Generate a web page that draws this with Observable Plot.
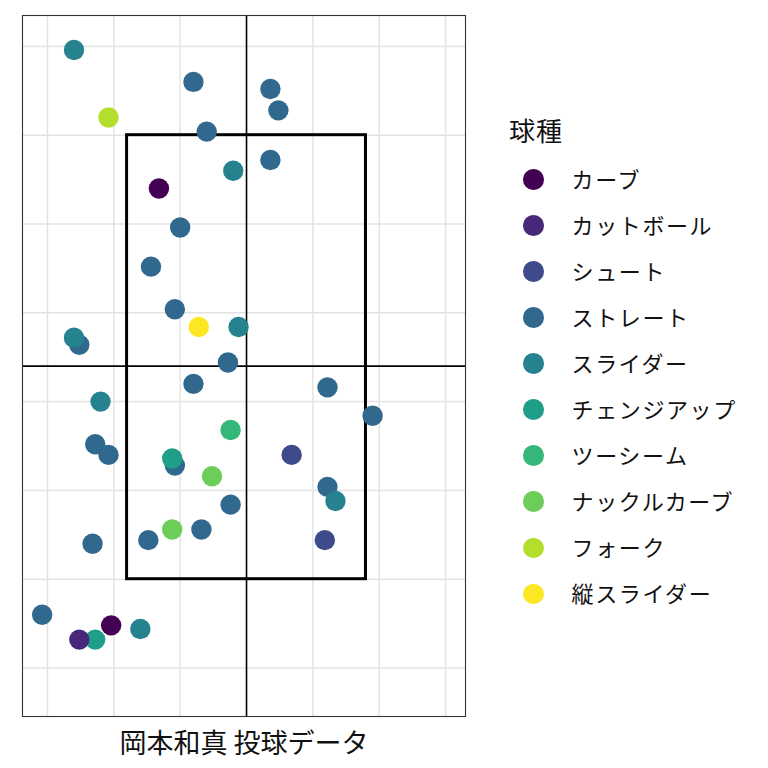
<!DOCTYPE html>
<html><head><meta charset="utf-8">
<script src="https://cdn.jsdelivr.net/npm/d3@7"></script>
<script src="https://cdn.jsdelivr.net/npm/@observablehq/plot@0.6"></script>
<style>
body{margin:0;background:#fff;font-family:"Noto Sans CJK JP","Noto Sans",sans-serif;}
#wrap{position:relative;width:768px;height:768px;overflow:hidden;background:#fff;}
#wrap svg{position:absolute;left:0;top:0;}
.lg-title{position:absolute;left:509px;top:115px;height:30px;line-height:30px;font-size:26px;color:#111;white-space:nowrap;letter-spacing:1px;}
.lg-row{position:absolute;left:512px;height:46px;display:flex;align-items:center;white-space:nowrap;}
.lg-sw{width:20.6px;height:20.6px;border-radius:50%;margin-left:11px;}
.lg-tx{margin-left:28px;font-size:22px;letter-spacing:1.6px;color:#111;line-height:46px;position:relative;top:-1.5px;}
</style></head><body><div id="wrap"></div>
<script>
// Categories (legend order) and colours
const pitchTypes = ["カーブ","カットボール","シュート","ストレート","スライダー","チェンジアップ","ツーシーム","ナックルカーブ","フォーク","縦スライダー"];
const palette = ["#440154","#482878","#3E4A89","#31688E","#26828E","#1F9E89","#35B779","#6DCD59","#B4DE2C","#FDE725"];

// Pitch data (drawing order)
const pitch = [
  "ストレート","ストレート","ストレート","ストレート","ストレート","ストレート","ストレート","ストレート","ストレート","ストレート","ストレート",
  "ストレート","ストレート","ストレート","ストレート","ストレート","ストレート","ストレート","ストレート","ストレート","ストレート","ストレート",
  "スライダー","スライダー","スライダー","スライダー","スライダー","スライダー","スライダー",
  "チェンジアップ","チェンジアップ",
  "カットボール",
  "カーブ","カーブ",
  "シュート","シュート",
  "ツーシーム",
  "ナックルカーブ","ナックルカーブ",
  "フォーク",
  "縦スライダー"
];
const plateX = [
  -0.40, 0.18, 0.24, -0.30, 0.18, -0.50, -0.72, -0.54, -1.26, -0.14, -0.40,
  0.61, 0.95, -1.14, -1.04, -0.54, 0.61, -0.12, -0.34, -1.16, -0.74, -1.54,
  -1.30, -0.10, -0.06, -1.30, -1.10, 0.67, -0.80,
  -0.56, -1.14,
  -1.26,
  -0.66, -1.02,
  0.34, 0.59,
  -0.12,
  -0.26, -0.56,
  -1.04,
  -0.36
];
const plateZ = [
  3.80, 3.76, 3.64, 3.52, 3.36, 2.98, 2.76, 2.52, 2.32, 2.22, 2.10,
  2.08, 1.92, 1.76, 1.70, 1.64, 1.52, 1.42, 1.28, 1.20, 1.22, 0.80,
  3.98, 3.30, 2.42, 2.36, 2.00, 1.44, 0.72,
  1.68, 0.66,
  0.66,
  3.20, 0.74,
  1.70, 1.22,
  1.84,
  1.58, 1.28,
  3.60,
  2.42
];

// Reference lines, strike zone, grid values
const centerX = [0];
const centerZ = [2.2];
const zoneX = [-0.9, 0.9];
const zoneZ = [1.0, 3.5];
const xGrid = [-1.5, -1.0, -0.5, 0.5, 1.0, 1.5];
const yGrid = [0.5, 1.0, 1.5, 2.0, 2.5, 3.0, 3.5, 4.0];
const xDomain = [-1.688, 1.650];
const yDomain = [0.227, 4.174];
const xTitle = "岡本和真 投球データ";
const legendTitle = "球種";

const idx = d3.range(pitch.length);

const plot = Plot.plot({
  width: 768, height: 768,
  marginLeft: 22, marginRight: 303, marginTop: 15, marginBottom: 52,
  x: {domain: xDomain, axis: null},
  y: {domain: yDomain, axis: null},
  color: {domain: pitchTypes, range: palette},
  style: {fontFamily: '"Noto Sans CJK JP", sans-serif', background: "#fff", overflow: "visible"},
  marks: [
    Plot.ruleX(xGrid, {stroke: "#e3e3e3", strokeWidth: 1.5}),
    Plot.ruleY(yGrid, {stroke: "#e3e3e3", strokeWidth: 1.5}),
    Plot.ruleX(centerX, {stroke: "#000", strokeWidth: 1.6}),
    Plot.ruleY(centerZ, {stroke: "#000", strokeWidth: 1.6}),
    Plot.rect([0], {x1: () => zoneX[0], x2: () => zoneX[1], y1: () => zoneZ[0], y2: () => zoneZ[1],
      fill: "none", stroke: "#000", strokeWidth: 3}),
    Plot.dot(idx, {x: i => plateX[i], y: i => plateZ[i], fill: i => pitch[i], r: 10.2, stroke: "none"}),
    Plot.frame({stroke: "#333", strokeWidth: 1.1}),
    Plot.text([xTitle], {text: d => d, frameAnchor: "bottom", dy: 28, lineAnchor: "middle",
      fontSize: 27, fill: "#111"})
  ]
});

const wrap = document.getElementById("wrap");
wrap.appendChild(plot);

const color = plot.scale("color");
const t = document.createElement("div");
t.className = "lg-title";
t.textContent = legendTitle;
wrap.appendChild(t);
pitchTypes.forEach((p, i) => {
  const row = document.createElement("div");
  row.className = "lg-row";
  row.style.top = (179.3 - 23 + i * 46.07) + "px";
  const sw = document.createElement("div");
  sw.className = "lg-sw";
  sw.style.background = color.apply(p);
  const tx = document.createElement("div");
  tx.className = "lg-tx";
  tx.textContent = p;
  row.appendChild(sw); row.appendChild(tx);
  wrap.appendChild(row);
});
</script></body></html>
